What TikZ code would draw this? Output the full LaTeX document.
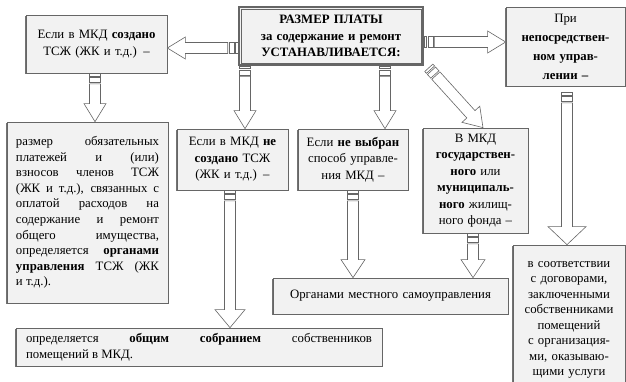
\documentclass[tikz,border=0pt]{standalone}
\usepackage{fontspec}
\setmainfont{Liberation Serif}
\usetikzlibrary{calc,shadows}
\newcommand\fs[2]{\fontsize{#1}{#2}\selectfont}
\newcommand\jline[1]{\hbox to\hsize{#1}}
% striped block arrow: [head half width]{start}{end}
\newcommand\stripearrow[3][12]{%
  \path let \p1=($(#3)-(#2)$) in
    \pgfextra{\pgfmathsetmacro\tmplen{veclen(\x1,\y1)}\xdef\arrlen{\tmplen}%
      \pgfmathsetmacro\tmpang{atan2(\y1,\x1)}\xdef\arrang{\tmpang}};
  \begin{scope}[shift={(#2)}, rotate=\arrang]
    \draw[arrowline] (0,-5.5) rectangle (2.5,5.5);
    \draw[arrowline] (4,-5.5) rectangle (9,5.5);
    \draw[arrowline] (10.5,-5.5) -- (\arrlen-18,-5.5) -- (\arrlen-18,-#1)
      -- (\arrlen,0) -- (\arrlen-18,#1) -- (\arrlen-18,5.5) -- (10.5,5.5) -- cycle;
  \end{scope}}
\begin{document}
\begin{tikzpicture}[x=1pt, y=-1pt,
  box/.style={draw=black!60, fill=black!5, line width=0.7pt,
    general shadow={fill=black!55, shadow xshift=-1.2pt, shadow yshift=-1.2pt},
    inner sep=0pt, align=center, font=\fs{12.8}{16.5}},
  arrowline/.style={draw=black!60, fill=white, line width=0.6pt}]
\useasboundingbox (0,0) rectangle (626,381);

% boxes
\node[box, line width=1.6pt, font=\fs{12.8}{16.5}\bfseries, text width=178pt,
  minimum width=184pt, minimum height=58pt] (size) at (331,36)
  {РАЗМЕР ПЛАТЫ\\за содержание и ремонт\\УСТАНАВЛИВАЕТСЯ:};
\draw[black!60, line width=0.5pt] ([shift={(3,3)}]size.north west) rectangle ([shift={(-3,-3)}]size.south east);
\node[box, text width=132pt, minimum width=141pt, minimum height=58pt] (tszh) at (96.5,44)
  {Если в МКД \textbf{создано}\\ТСЖ (ЖК и т.д.) –};
\node[box, text width=112pt, minimum width=119pt, minimum height=79pt,
  font=\fs{12.8}{19}] (direct) at (565.5,46.5)
  {При\\\textbf{непосредствен-}\\\textbf{ном управ-}\\\textbf{лении –}};
\node[box, minimum width=161pt, minimum height=181pt,
  font=\fs{12.8}{15.6}] (dues) at (87.5,212.5)
  {\vbox{\hsize=143pt
   \jline{размер обязательных}\jline{платежей и (или)}\jline{взносов членов ТСЖ}
   \jline{(ЖК и т.д.), связанных с}\jline{оплатой расходов на}\jline{содержание и ремонт}
   \jline{общего имущества,}\jline{определяется \textbf{органами}}
   \jline{\textbf{управления} ТСЖ (ЖК}\hbox{и т.д.).}}};
\node[box, text width=106pt, minimum width=111pt, minimum height=61pt] (notszh) at (232.5,159.5)
  {Если в МКД \textbf{не}\\\textbf{создано} ТСЖ\\(ЖК и т.д.) –};
\node[box, text width=106pt, minimum width=110pt, minimum height=61pt] (nochoice) at (353,159.5)
  {Если \textbf{не выбран}\\способ управле-\\ния МКД –};
\node[box, text width=102pt, minimum width=105pt, minimum height=105pt] (state) at (475.5,180.5)
  {В МКД\\\textbf{государствен-}\\\textbf{ного} или\\\textbf{муниципаль-}\\\textbf{ного} жилищ-\\ного фонда –};
\node[box, text width=225pt, minimum width=235pt, minimum height=36pt] (local) at (390.5,296)
  {Органами местного самоуправления};
\node[box, text width=110pt, minimum width=112pt, minimum height=150pt,
  font=\fs{12.8}{15.5}] (contract) at (569,320)
  {в соответствии\\с договорами,\\заключенными\\собственниками\\помещений\\с организация-\\ми, оказываю-\\щими услуги};
\node[box, minimum width=366pt, minimum height=38pt,
  font=\fs{12.8}{16}] (meeting) at (199,347)
  {\vbox{\hsize=346pt
   \jline{определяется \textbf{общим} \textbf{собранием} собственников}\hbox{помещений в МКД.}}};

% arrows
\coordinate (a5) at ($(size.south east)+(5,2)$);
\coordinate (a10) at ($(direct.south -| 567,0)+(0,6)$);
\stripearrow[11]{size.west |- 0,48}{tszh.east |- 0,48}
\stripearrow[11]{size.east |- 0,42}{direct.west |- 0,42}
\stripearrow[11]{size.south -| 245,0}{notszh.north -| 245,0}
\stripearrow[11]{size.south -| 385,0}{nochoice.north -| 385,0}
\stripearrow[12]{a5}{state.north -| 483,0}
\stripearrow[11]{tszh.south -| 95,0}{dues.north -| 95,0}
\stripearrow[15]{notszh.south -| 230,0}{meeting.north -| 230,0}
\stripearrow[12]{nochoice.south -| 353,0}{local.north -| 353,0}
\stripearrow[12]{state.south -| 473,0}{local.north -| 473,0}
\stripearrow[19]{a10}{contract.north -| 567,0}
\end{tikzpicture}
\end{document}
